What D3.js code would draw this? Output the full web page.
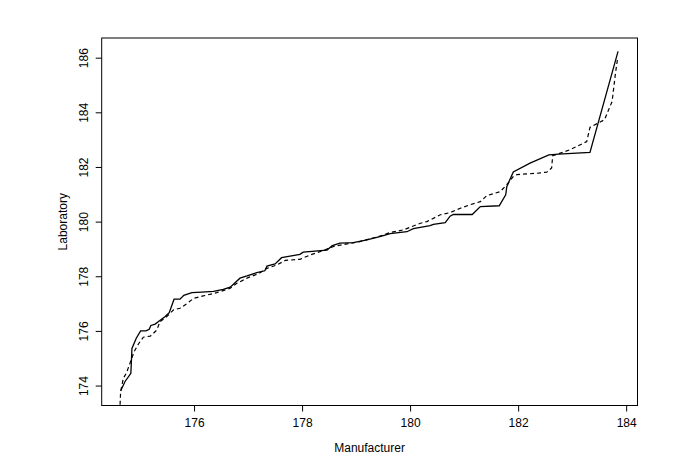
<!DOCTYPE html>
<html>
<head>
<meta charset="utf-8">
<script src="https://cdn.jsdelivr.net/npm/d3@7"></script>
<style>
  body { margin: 0; background: #fff; }
  text { font-family: "Liberation Sans", Arial, sans-serif; }
</style>
</head>
<body>
<div id="chart"></div>
<script>
// data
var solidX = [174.64, 174.72, 174.83, 174.85, 174.93, 175.01, 175.11, 175.17, 175.2, 175.28, 175.36, 175.46, 175.54, 175.63, 175.74, 175.81, 175.96, 176.14, 176.36, 176.54, 176.67, 176.85, 176.98, 177.16, 177.31, 177.35, 177.5, 177.62, 177.96, 178.02, 178.46, 178.56, 178.7, 178.95, 179.2, 179.44, 179.63, 179.94, 180.06, 180.37, 180.43, 180.65, 180.74, 180.8, 181.15, 181.3, 181.65, 181.77, 181.79, 181.91, 182.22, 182.57, 182.75, 183.33, 183.85];
var solidY = [173.8, 174.14, 174.45, 175.36, 175.73, 176.0, 176.0, 176.06, 176.2, 176.25, 176.37, 176.52, 176.67, 177.16, 177.16, 177.3, 177.4, 177.42, 177.45, 177.52, 177.6, 177.93, 178.01, 178.13, 178.2, 178.37, 178.45, 178.68, 178.8, 178.88, 178.96, 179.12, 179.21, 179.23, 179.33, 179.45, 179.56, 179.63, 179.74, 179.85, 179.9, 179.96, 180.2, 180.26, 180.26, 180.55, 180.58, 180.98, 181.28, 181.82, 182.14, 182.44, 182.47, 182.53, 186.23];

var dashedX = [174.63, 174.64, 174.69, 174.75, 174.89, 174.97, 175.06, 175.19, 175.31, 175.37, 175.49, 175.62, 175.74, 175.86, 175.99, 176.17, 176.42, 176.67, 176.79, 177.0, 177.2, 177.35, 177.53, 177.69, 177.96, 178.15, 178.33, 178.6, 179.07, 179.44, 179.63, 179.88, 180.19, 180.31, 180.56, 180.74, 180.93, 181.11, 181.3, 181.42, 181.67, 181.79, 181.91, 181.98, 182.35, 182.53, 182.62, 182.64, 182.96, 183.27, 183.33, 183.6, 183.74, 183.8, 183.84];
var dashedY = [173.3, 173.77, 174.26, 174.47, 175.24, 175.52, 175.77, 175.81, 176.03, 176.34, 176.52, 176.77, 176.83, 176.99, 177.19, 177.28, 177.4, 177.56, 177.74, 177.95, 178.1, 178.29, 178.41, 178.58, 178.62, 178.78, 178.9, 179.1, 179.27, 179.47, 179.6, 179.7, 179.94, 180.0, 180.25, 180.33, 180.49, 180.62, 180.73, 180.95, 181.1, 181.35, 181.65, 181.72, 181.77, 181.81, 181.96, 182.41, 182.63, 182.93, 183.45, 183.73, 184.4, 185.4, 185.95];

var xTicks = [176, 178, 180, 182, 184];
var yTicks = [174, 176, 178, 180, 182, 184, 186];
var xLabel = "Manufacturer";
var yLabel = "Laboratory";

// set the dimensions and margins of the graph
var margin = {top: 38, right: 49.5, bottom: 59.5, left: 101.7},
    width = 687 - margin.left - margin.right,
    height = 465 - margin.top - margin.bottom;

var svg = d3.select("#chart")
  .append("svg")
    .attr("width", 687)
    .attr("height", 465)
  .append("g")
    .attr("transform", "translate(" + margin.left + "," + margin.top + ")");

var x = d3.scaleLinear()
  .domain([174.29, 184.21])
  .range([0, width]);

var y = d3.scaleLinear()
  .domain([173.27, 186.72])
  .range([height, 0]);

// X axis
var xAxis = svg.append("g")
  .attr("transform", "translate(0," + height + ")")
  .call(d3.axisBottom(x).tickValues(xTicks).tickFormat(d3.format("d")).tickSize(6));
xAxis.select(".domain").remove();
xAxis.selectAll("line").attr("stroke", "#000");
xAxis.selectAll("text")
  .attr("y", 21)
  .attr("dy", 0)
  .attr("fill", "#000")
  .style("font-size", "12px");

// Y axis, labels turned like R does
var yAxis = svg.append("g")
  .call(d3.axisLeft(y).tickValues(yTicks).tickFormat(d3.format("d")).tickSize(6));
yAxis.select(".domain").remove();
yAxis.selectAll("line").attr("stroke", "#000");
yAxis.selectAll("text")
  .attr("x", 0)
  .attr("y", -14)
  .attr("dy", 0)
  .attr("transform", "rotate(-90)")
  .attr("text-anchor", "middle")
  .attr("fill", "#000")
  .style("font-size", "12px");

// box round the plot
svg.append("rect")
  .attr("x", 0)
  .attr("y", 0)
  .attr("width", width)
  .attr("height", height)
  .attr("fill", "none")
  .attr("stroke", "#000")
  .attr("stroke-width", 1);

var line = d3.line()
  .x(function(d) { return x(d[0]); })
  .y(function(d) { return y(d[1]); });

svg.append("path")
  .datum(d3.zip(dashedX, dashedY))
  .attr("fill", "none")
  .attr("stroke", "#000")
  .attr("stroke-width", 1.2)
  .attr("stroke-dasharray", "4,3")
  .attr("d", line);

svg.append("path")
  .datum(d3.zip(solidX, solidY))
  .attr("fill", "none")
  .attr("stroke", "#000")
  .attr("stroke-width", 1.3)
  .attr("d", line);

// axis titles
svg.append("text")
  .attr("text-anchor", "middle")
  .attr("x", width / 2)
  .attr("y", height + 46)
  .style("font-size", "12px")
  .text(xLabel);

svg.append("text")
  .attr("text-anchor", "middle")
  .attr("transform", "rotate(-90)")
  .attr("x", -height / 2)
  .attr("y", -35)
  .style("font-size", "12px")
  .text(yLabel);
</script>
</body>
</html>
